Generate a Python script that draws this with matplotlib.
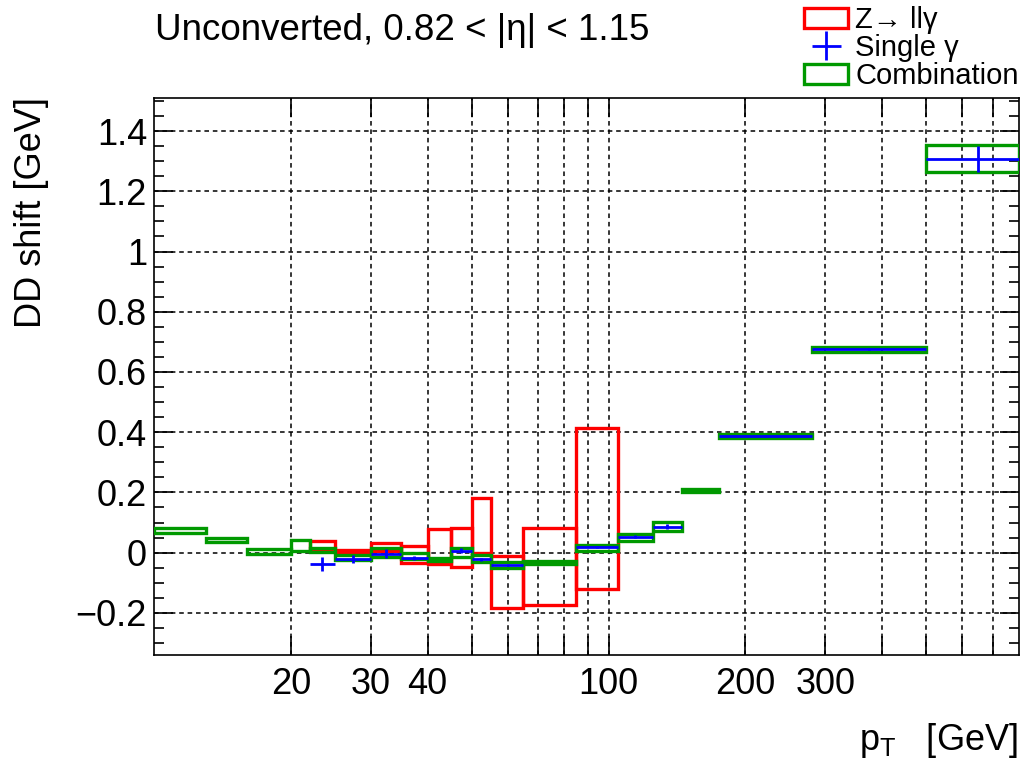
import numpy as np
import matplotlib
matplotlib.use("Agg")
import matplotlib.pyplot as plt
from matplotlib.ticker import FixedLocator, NullFormatter, MultipleLocator, FixedFormatter

# bin edges (GeV)
comb_edges = [10, 13, 16, 20, 22, 25, 30, 35, 40, 45, 50, 55, 65, 85, 105, 125, 145, 175, 280, 500, 800]
comb_val = [0.073, 0.0415, 0.0035, 0.023, 0.008, -0.0155, 0.001, -0.0105, -0.023, 0.001,
            -0.020, -0.042, -0.033, 0.017, 0.0505, 0.087, 0.208, 0.387, 0.675, 1.308]
comb_err = [0.009, 0.0075, 0.0075, 0.019, 0.007, 0.0075, 0.015, 0.0095, 0.005, 0.015,
            0.012, 0.010, 0.005, 0.010, 0.011, 0.015, 0.005, 0.007, 0.007, 0.045]

zllg_edges = [22, 25, 30, 35, 40, 45, 50, 55, 65, 85, 105]
zllg_val = [0.023, 0.006, 0.0175, -0.007, 0.020, 0.017, 0.090, -0.0975, -0.0465, 0.1465]
zllg_err = [0.015, 0.004, 0.0135, 0.029, 0.058, 0.066, 0.090, 0.0875, 0.1285, 0.2675]

# single photon points (nan = not visible under the combination box)
sg_lo = [22, 25, 30, 35, 40, 45, 50, 55, 65, 85, 105, 125, 145, 175, 280, 500]
sg_hi = [25, 30, 35, 40, 45, 50, 55, 65, 85, 105, 125, 145, 175, 280, 500, 800]
sg_x = [23.4, 27.4, 32.4, 37.4, 42.4, 47.4, 52.4, 60.0, 74.3, 94.5, 114.5, 134.6, 159.5, 221.4, 374.2, 650.0]
sg_val = [-0.038, -0.021, -0.004, -0.017, np.nan, 0.006, -0.022, -0.041, np.nan, 0.018,
          0.052, 0.086, np.nan, 0.388, 0.676, 1.307]
sg_err = [0.024, 0.014, 0.015, 0.006, np.nan, 0.008, 0.005, 0.004, np.nan, 0.004,
          0.005, 0.008, np.nan, 0.003, 0.003, 0.042]

x_major = [20, 30, 40, 50, 60, 70, 80, 90, 100, 200, 300, 400, 500, 600, 700]
x_labels = ["20", "30", "40", "", "", "", "", "", "100", "200", "300", "", "", "", ""]

fam = "Liberation Sans"
plt.rcParams["font.family"] = [fam, "DejaVu Sans"]
plt.rcParams["mathtext.fontset"] = "custom"
plt.rcParams["mathtext.rm"] = fam
plt.rcParams["mathtext.it"] = fam

RED, BLUE, GREEN = "#ff0000", "#0000ff", "#009900"
ZLAB = "Z\u2192 ll\u03b3"

fig = plt.figure(figsize=(10.25, 7.63), dpi=100)
ax = fig.add_axes([154 / 1025, 1 - 655 / 763, (1019 - 154) / 1025, (655 - 98) / 763])
ax.set_xscale("log")

ce = np.array(comb_edges, dtype=float)
cv = np.array(comb_val)
cr = np.array(comb_err)
ze = np.array(zllg_edges, dtype=float)
zv = np.array(zllg_val)
zr = np.array(zllg_err)

ax.bar(ze[:-1], 2 * zr, width=np.diff(ze), bottom=zv - zr, align="edge",
       fill=False, edgecolor=RED, linewidth=2.4, zorder=3, label=ZLAB)

ax.bar(ce[:-1], 2 * cr, width=np.diff(ce), bottom=cv - cr, align="edge",
       fill=False, edgecolor=GREEN, linewidth=2.4, zorder=4, label="Combination")

sx = np.array(sg_x)
ax.errorbar(sx, sg_val, xerr=[sx - np.array(sg_lo), np.array(sg_hi) - sx], yerr=sg_err,
            fmt="none", ecolor=BLUE, elinewidth=2.0, capsize=0, zorder=5,
            label="Single \u03b3")

ax.set_xlim(10, 800)
ax.set_ylim(-0.34, 1.51)

ax.xaxis.set_major_locator(FixedLocator(x_major))
ax.xaxis.set_major_formatter(FixedFormatter(x_labels))
ax.xaxis.set_minor_locator(FixedLocator([]))
ax.xaxis.set_minor_formatter(NullFormatter())
ax.yaxis.set_minor_locator(MultipleLocator(0.05))
ax.set_yticks(np.arange(-0.2, 1.41, 0.2))
ax.set_yticklabels(["\u22120.2", "0", "0.2", "0.4", "0.6", "0.8", "1", "1.2", "1.4"])

ax.tick_params(axis="both", which="both", direction="in", top=True, right=True,
               width=1.2, colors="black")
ax.tick_params(axis="x", which="major", length=14, pad=9, labelsize=26)
ax.tick_params(axis="y", which="major", length=14, pad=5, labelsize=26)
ax.tick_params(axis="y", which="minor", length=7)
for s in ax.spines.values():
    s.set_linewidth(1.2)

ax.grid(True, which="major", color="black", linestyle=(0, (3, 2.5)), linewidth=1.1)

fig.text(155 / 1025, 1 - 30 / 763, "Unconverted, 0.82 < |\u03b7| < 1.15", fontsize=26.5,
         ha="left", va="center")
fig.text(32 / 1025, 1 - 213 / 763, "DD shift [GeV]", fontsize=26, rotation=90,
         ha="center", va="center")
fig.text(1018 / 1025, 1 - 740 / 763, r"p$_{\mathrm{T}}$   [GeV]", fontsize=26,
         ha="right", va="center")

handles, labels = ax.get_legend_handles_labels()
order = [labels.index(l) for l in [ZLAB, "Single \u03b3", "Combination"]]
fig.legend([handles[i] for i in order], [labels[i] for i in order],
           loc="upper right", bbox_to_anchor=(1019 / 1025, 1 - 6 / 763), frameon=False,
           fontsize=21, handlelength=1.5, handleheight=0.7, handletextpad=0.25,
           labelspacing=0.0, borderpad=0.0, borderaxespad=0.0)

fig.savefig("out.png", dpi=100)
